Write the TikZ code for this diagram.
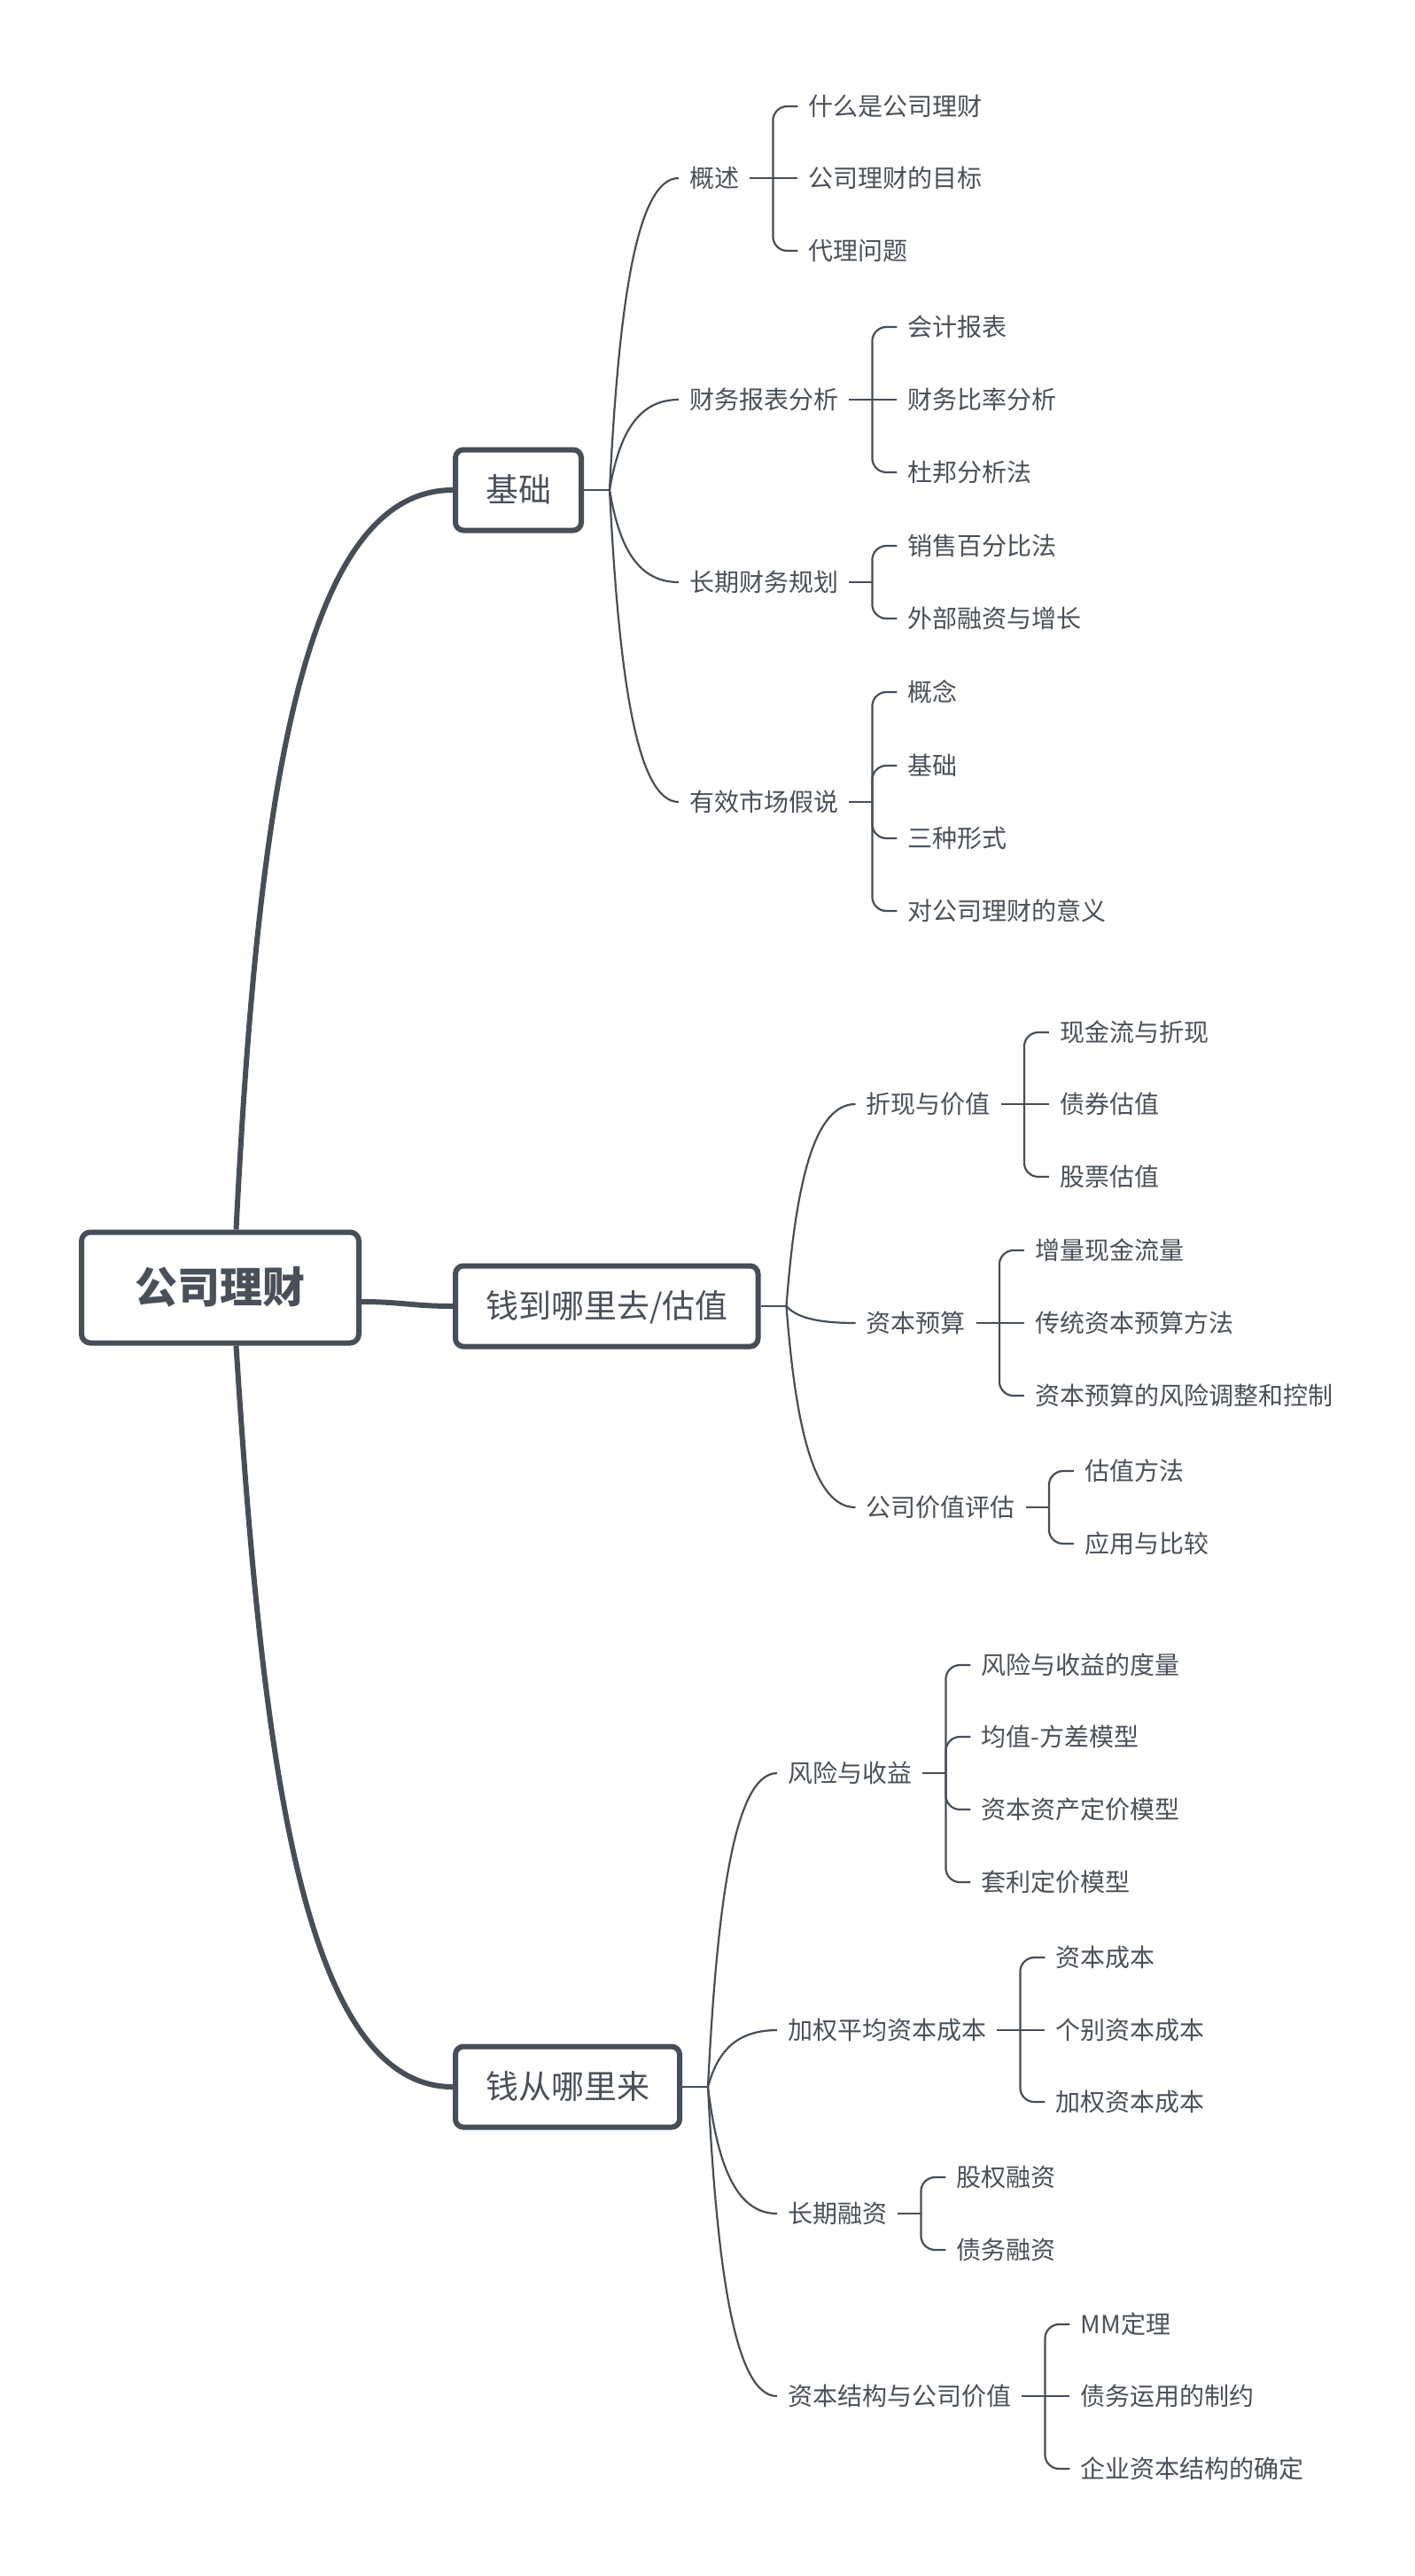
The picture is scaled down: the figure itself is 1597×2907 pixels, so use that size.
\documentclass[tikz,border=0pt]{standalone}
\usepackage{fontspec}
\setmainfont{Noto Sans CJK SC}
\usetikzlibrary{calc}
\definecolor{ln}{HTML}{474E57}
\definecolor{tx}{HTML}{4A5059}
\tikzset{
  rootbox/.style={draw=ln, line width=6pt, rounded corners=10pt, fill=white, text=tx,
    font=\fontsize{48}{56}\selectfont\bfseries, minimum width=313pt, minimum height=125pt,
    inner sep=0pt, text height=41.3pt, text depth=6.7pt},
  topbox/.style={draw=ln, line width=6pt, rounded corners=9pt, fill=white, text=tx,
    font=\fontsize{37}{44}\selectfont, minimum height=91pt, inner xsep=34pt, inner ysep=0pt,
    anchor=west, text height=31.8pt, text depth=5.2pt},
  midtxt/.style={text=tx, font=\fontsize{28}{34}\selectfont, inner xsep=12pt, inner ysep=4pt,
    anchor=west, text height=24.1pt, text depth=3.9pt},
  leaftxt/.style={midtxt},
  thickconn/.style={draw=ln, line width=6pt},
  thinconn/.style={draw=ln, line width=2.2pt},
}
% curved connector: style, start, end, f1x, f1y, f2x
\newcommand\mmcurve[6]{%
  \draw[#1] let \p1=#2, \p2=#3 in (\p1) .. controls ({\x1+#4*(\x2-\x1)},{\y1+#5*(\y2-\y1)}) and ({\x1+#6*(\x2-\x1)},{\y2}) .. (\p2);}
% level-2 branch: hub, name, y, text
\newcommand\mmbranch[4]{%
  \node[midtxt] (#2) at ($(#1 |- 0,#3)+(78,0)$) {#4};
  \mmcurve{thinconn}{(#1)}{(#2.west)}{0.13}{0.58}{0.38}}
% bracket stub after a level-2 node
\newcommand\mmstub[1]{\draw[thinconn] (#1.east) -- ++(26,0) coordinate (#1b);}
% level-3 child (off-axis)
\newcommand\mmkid[4]{%
  \node[leaftxt] (#2) at ($(#1b |- 0,#3)+(28,0)$) {#4};
  \draw[thinconn, rounded corners=16pt] (#1b) |- (#2.west);}
% level-3 child (on axis)
\newcommand\mmkidm[4]{%
  \node[leaftxt] (#2) at ($(#1b |- 0,#3)+(28,0)$) {#4};
  \draw[thinconn] (#1b) -- (#2.west);}
\begin{document}
\begin{tikzpicture}[x=1pt,y=-1pt]
\fill[white] (0,0) rectangle (1597,2907);
\useasboundingbox (0,0) rectangle (1597,2907);

% root and level 1
\node[rootbox] (root) at (248.5,1453) {公司理财};
\node[topbox] (jc) at (511,553) {基础};
\node[topbox] (qd) at (511,1474) {钱到哪里去/估值};
\node[topbox] (qc) at (511,2355) {钱从哪里来};

\coordinate (rtop) at ($(root.north)+(18,0)$);
\coordinate (rbot) at ($(root.south)+(18,0)$);
\coordinate (rright) at ($(root.east)+(0,16)$);
\mmcurve{thickconn}{(rtop)}{(jc.west)}{0.1}{0.58}{0.3}
\mmcurve{thickconn}{(rbot)}{(qc.west)}{0.12}{0.55}{0.3}
\draw[thickconn] (rright) .. controls ($(rright)+(45,0)$) and ($(qd.west)+(-45,0)$) .. (qd.west);

% ---------- 基础 ----------
\draw[thinconn] (jc.east) -- ++(29,0) coordinate (jch);
\mmbranch{jch}{gs}{201}{概述}
\mmbranch{jch}{cw}{451}{财务报表分析}
\mmbranch{jch}{cq}{657}{长期财务规划}
\mmbranch{jch}{yx}{905}{有效市场假说}

\mmstub{gs}
\mmkid{gs}{gs1}{120}{什么是公司理财}
\mmkidm{gs}{gs2}{201}{公司理财的目标}
\mmkid{gs}{gs3}{283}{代理问题}

\mmstub{cw}
\mmkid{cw}{cw1}{369}{会计报表}
\mmkidm{cw}{cw2}{451}{财务比率分析}
\mmkid{cw}{cw3}{533}{杜邦分析法}

\mmstub{cq}
\mmkid{cq}{cq1}{616}{销售百分比法}
\mmkid{cq}{cq2}{698}{外部融资与增长}

\mmstub{yx}
\mmkid{yx}{yx1}{781}{概念}
\mmkid{yx}{yx2}{864}{基础}
\mmkid{yx}{yx3}{946}{三种形式}
\mmkid{yx}{yx4}{1028}{对公司理财的意义}

% ---------- 钱到哪里去/估值 ----------
\draw[thinconn] (qd.east) -- ++(29,0) coordinate (qdh);
\mmbranch{qdh}{zx}{1246}{折现与价值}
\mmbranch{qdh}{ys}{1493}{资本预算}
\mmbranch{qdh}{pg}{1701}{公司价值评估}

\mmstub{zx}
\mmkid{zx}{zx1}{1165}{现金流与折现}
\mmkidm{zx}{zx2}{1246}{债券估值}
\mmkid{zx}{zx3}{1328}{股票估值}

\mmstub{ys}
\mmkid{ys}{ys1}{1411}{增量现金流量}
\mmkidm{ys}{ys2}{1493}{传统资本预算方法}
\mmkid{ys}{ys3}{1575}{资本预算的风险调整和控制}

\mmstub{pg}
\mmkid{pg}{pg1}{1660}{估值方法}
\mmkid{pg}{pg2}{1742}{应用与比较}

% ---------- 钱从哪里来 ----------
\draw[thinconn] (qc.east) -- ++(29,0) coordinate (qch);
\mmbranch{qch}{fx}{2001}{风险与收益}
\mmbranch{qch}{jq}{2291}{加权平均资本成本}
\mmbranch{qch}{rz}{2498}{长期融资}
\mmbranch{qch}{jg}{2704}{资本结构与公司价值}

\mmstub{fx}
\mmkid{fx}{fx1}{1879}{风险与收益的度量}
\mmkid{fx}{fx2}{1960}{均值-方差模型}
\mmkid{fx}{fx3}{2042}{资本资产定价模型}
\mmkid{fx}{fx4}{2124}{套利定价模型}

\mmstub{jq}
\mmkid{jq}{jq1}{2209}{资本成本}
\mmkidm{jq}{jq2}{2291}{个别资本成本}
\mmkid{jq}{jq3}{2372}{加权资本成本}

\mmstub{rz}
\mmkid{rz}{rz1}{2457}{股权融资}
\mmkid{rz}{rz2}{2539}{债务融资}

\mmstub{jg}
\mmkid{jg}{jg1}{2623}{MM定理}
\mmkidm{jg}{jg2}{2704}{债务运用的制约}
\mmkid{jg}{jg3}{2786}{企业资本结构的确定}
\end{tikzpicture}
\end{document}
